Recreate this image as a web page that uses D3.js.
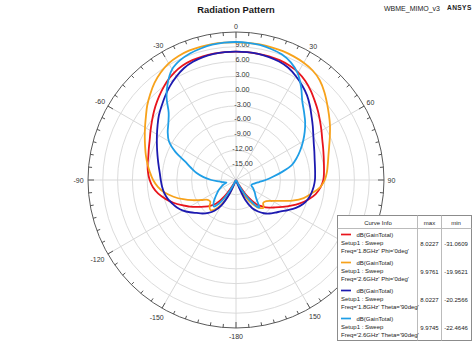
<!DOCTYPE html>
<html>
<head>
<meta charset="utf-8">
<script src="https://cdn.jsdelivr.net/npm/d3@7"></script>
<style>
  html, body { margin: 0; padding: 0; background: #fff; }
  svg { display: block; font-family: "Liberation Sans", Arial, sans-serif; }
</style>
</head>
<body>
<svg id="chart" width="474" height="346"></svg>
<script>
// Sample angles (deg, 0 = top, clockwise)
const ANGLES = [-180,-175,-170,-165,-160,-155,-150,-145,-140,-135,-130,-125,-120,-115,-110,-105,-100,-95,-90,-85,-80,-75,-70,-65,-60,-55,-50,-45,-40,-35,-30,-25,-20,-15,-10,-5,
  0,5,10,15,20,25,30,35,40,45,50,55,60,65,70,75,80,85,90,95,100,105,110,115,120,125,130,135,140,145,150,155,160,165,170,175];

// dB(GainTotal), 1.8 GHz, Phi = 0deg
const GAIN_18_PHI0 = [-31.06,-30,-28,-26,-24,-21,-17.5,-14.0,-11.8,-10.6,-9.6,-8.5,-7.2,-5.9,-4.5,-3.2,-2.0,-1.1,-0.5,-0.1,0.2,0.4,0.8,1.3,2.0,2.8,3.7,4.6,5.5,6.4,7.1,7.6,7.85,7.95,8.0,8.02,
  8.02,8.0,7.98,7.95,7.85,7.6,7.2,6.5,5.6,4.6,3.7,2.8,2.0,1.3,0.8,0.4,0.1,-0.1,-0.3,-0.8,-1.6,-2.8,-4.2,-5.7,-7.1,-8.3,-9.3,-10.4,-11.6,-13.8,-17.5,-21,-24,-26,-28,-30];

// dB(GainTotal), 2.6 GHz, Phi = 0deg
const GAIN_26_PHI0 = [-19.96,-19.9,-19.7,-19.3,-18.3,-15.0,-12.5,-10.8,-10.0,-10.4,-11.2,-11.0,-9.9,-8.3,-6.6,-4.9,-3.3,-2.1,-1.2,-0.5,0.2,0.9,1.6,2.4,3.3,4.3,5.5,6.6,7.7,8.6,9.3,9.7,9.9,9.95,9.976,9.95,
  9.9,9.9,9.9,9.85,9.8,9.65,9.45,9.1,8.4,7.3,6.1,5.0,4.0,3.0,2.1,1.4,0.9,0.5,0.0,-0.9,-2.4,-3.8,-5.8,-8.0,-9.5,-10.5,-10.8,-10.1,-10.6,-12.0,-13.8,-16.0,-18.5,-19.5,-19.8,-19.9];

// dB(GainTotal), 1.8 GHz, Theta = 90deg
const GAIN_18_THETA90 = [-20.27,-20.2,-20.0,-19.5,-18.5,-14.8,-12.0,-10.4,-9.3,-8.4,-7.6,-6.6,-5.6,-4.8,-4.2,-3.6,-3.2,-2.95,-2.75,-2.5,-2.1,-1.6,-1.0,-0.3,0.5,1.4,2.4,3.3,4.3,5.3,6.2,7.0,7.5,7.8,7.95,8.02,
  8.02,8.0,7.95,7.8,7.55,7.1,6.3,5.4,4.4,3.2,2.0,1.0,0.1,-0.6,-1.1,-1.5,-1.75,-1.9,-2.0,-2.2,-2.5,-2.9,-3.6,-4.6,-5.8,-6.9,-7.7,-8.4,-9.2,-10.2,-11.4,-13.6,-17.5,-19.5,-20.0,-20.2];

// dB(GainTotal), 2.6 GHz, Theta = 90deg
const GAIN_26_THETA90 = [-22.46,-22.3,-21.8,-21,-19.8,-18.5,-15.5,-12.5,-11.0,-11.6,-12.5,-13.3,-14.0,-14.7,-15.3,-16.0,-15.4,-14.6,-13.0,-11.4,-9.9,-8.6,-7.0,-4.4,-2.3,-1.1,-0.1,1.3,3.9,6.1,7.9,8.8,9.3,9.6,9.85,9.95,
  9.97,9.92,9.8,9.5,9.1,8.3,7.0,5.0,2.9,1.5,0.3,-1.0,-2.3,-3.6,-4.9,-6.3,-8.5,-10.5,-12.0,-13.3,-14.1,-14.6,-14.7,-14.2,-13.8,-13.3,-12.8,-11.9,-10.7,-12.8,-15.8,-18.6,-20,-21,-21.8,-22.3];

const SERIES = [GAIN_18_PHI0, GAIN_26_PHI0, GAIN_18_THETA90, GAIN_26_THETA90];
const SERIES_COLORS = ["#e8141c", "#f7a21b", "#1d1ab0", "#1f9ee6"];
const SERIES_NAMES = ["dB(GainTotal)", "dB(GainTotal)", "dB(GainTotal)", "dB(GainTotal)"];
const SETUP_NAMES = ["Setup1 : Sweep", "Setup1 : Sweep", "Setup1 : Sweep", "Setup1 : Sweep"];
const FREQ_NAMES = ["Freq='1.8GHz' Phi='0deg'", "Freq='2.6GHz' Phi='0deg'", "Freq='1.8GHz' Theta='90deg'", "Freq='2.6GHz' Theta='90deg'"];
const MAX_VALUES = ["8.0227", "9.9761", "8.0227", "9.9745"];
const MIN_VALUES = ["-31.0609", "-19.9621", "-20.2566", "-22.4646"];

const RING_TICKS = [-15, -12, -9, -6, -3, 0, 3, 6, 9];
const ANGLE_TICKS = [0, 30, 60, 90, 120, 150, 180, 210, 240, 270, 300, 330];
const ANGLE_LABELS = ["0", "30", "60", "90", "120", "150", "-180", "-150", "-120", "-90", "-60", "-30"];

const svg = d3.select("#chart");
const cx = 236, cy = 180, R = 148;
const rScale = d3.scaleLinear().domain([-18, 12]).range([0, R]).clamp(true);
const rad = d => d * Math.PI / 180;

// Legend table geometry (drawn last, on top of the plot)
const lx = 337.5, ly = 215.5, lw = 134, lh = 125, headH = 13, rowH = 28;

// Title and header text
svg.append("text").attr("x", 236).attr("y", 13).attr("text-anchor", "middle")
  .attr("font-size", 9.4).attr("font-weight", "bold").attr("fill", "#1a1a1a").text("Radiation Pattern");
svg.append("text").attr("x", 384).attr("y", 10.5).attr("font-size", 7).attr("fill", "#222").text("WBME_MIMO_v3");
svg.append("text").attr("x", 447).attr("y", 10).attr("font-size", 6.6).attr("font-weight", "bold")
  .attr("letter-spacing", 0.4).attr("fill", "#222").text("ANSYS");

const g = svg.append("g").attr("transform", `translate(${cx},${cy})`);

// Grid rings
g.selectAll("circle.ring").data(RING_TICKS).join("circle")
  .attr("r", d => rScale(d)).attr("fill", "none").attr("stroke", "#dcdcdc").attr("stroke-width", 1);

// Spokes every 30 deg
g.selectAll("line.spoke").data(ANGLE_TICKS).join("line")
  .attr("x1", 0).attr("y1", 0)
  .attr("x2", d => R * Math.sin(rad(d))).attr("y2", d => -R * Math.cos(rad(d)))
  .attr("stroke", "#d8d8d8").attr("stroke-width", 1);

// Outer circle and tick marks
g.append("circle").attr("r", R).attr("fill", "none").attr("stroke", "#5a5a5a").attr("stroke-width", 1);
const minorTicks = d3.range(0, 360, 5);
g.selectAll("line.tick").data(minorTicks).join("line")
  .attr("x1", d => R * Math.sin(rad(d))).attr("y1", d => -R * Math.cos(rad(d)))
  .attr("x2", d => (R - (d % 30 === 0 ? 6 : 3.5)) * Math.sin(rad(d)))
  .attr("y2", d => -(R - (d % 30 === 0 ? 6 : 3.5)) * Math.cos(rad(d)))
  .attr("stroke", "#555").attr("stroke-width", 1);

// Angle labels, pushed out by their width and height; any label under the legend table stays hidden
const labelR = (d, i) => {
  const s = Math.abs(Math.sin(rad(d))), c = Math.cos(rad(d));
  return 153.5 + 2 * (ANGLE_LABELS[i].length - 1) * s + (c < 0 ? 2.5 * -c : 0);
};
const angLabels = ANGLE_TICKS.map((d, i) => ({
  text: ANGLE_LABELS[i],
  x: labelR(d, i) * Math.sin(rad(d)),
  y: -labelR(d, i) * Math.cos(rad(d))
})).filter(p => !(cx + p.x > lx - 4 && cy + p.y > ly - 3));
g.selectAll("text.ang").data(angLabels).join("text")
  .attr("x", p => p.x).attr("y", p => p.y)
  .attr("text-anchor", "middle").attr("dominant-baseline", "central")
  .attr("font-size", 7).attr("fill", "#333").text(p => p.text);

// Radial labels along the 0-deg spoke
g.selectAll("text.rl").data(RING_TICKS).join("text")
  .attr("x", 6.5).attr("y", d => -rScale(d) + 0.5)
  .attr("text-anchor", "middle").attr("font-size", 7.2).attr("fill", "#333")
  .text(d => d.toFixed(2));

// Pattern curves
const line = d3.lineRadial()
  .angle(d => rad(d[0]))
  .radius(d => rScale(d[1]))
  .curve(d3.curveCatmullRomClosed.alpha(0.5));

SERIES.forEach((vals, i) => {
  const pts = ANGLES.map((a, k) => [a, vals[k]]);
  g.append("path").attr("d", line(pts)).attr("fill", "none")
    .attr("stroke", SERIES_COLORS[i]).attr("stroke-width", 1.8).attr("stroke-linejoin", "round");
});

// Legend table
const lg = svg.append("g");
lg.append("rect").attr("x", lx).attr("y", ly).attr("width", lw).attr("height", lh)
  .attr("fill", "#fff").attr("stroke", "#8c8c8c").attr("stroke-width", 1);
lg.append("line").attr("x1", lx).attr("x2", lx + lw).attr("y1", ly + headH).attr("y2", ly + headH).attr("stroke", "#bbb");
[417.5, 441.5].forEach(x => lg.append("line").attr("x1", x).attr("x2", x).attr("y1", ly).attr("y2", ly + lh).attr("stroke", "#bbb"));
const hdr = [["Curve Info", 378], ["max", 429.5], ["min", 456]];
hdr.forEach(([t, x]) => lg.append("text").attr("x", x).attr("y", ly + 9.5).attr("text-anchor", "middle")
  .attr("font-size", 6).attr("fill", "#222").text(t));

SERIES.forEach((vals, i) => {
  const y0 = ly + headH + i * rowH;
  lg.append("line").attr("x1", 341).attr("x2", 351).attr("y1", y0 + 6).attr("y2", y0 + 6)
    .attr("stroke", SERIES_COLORS[i]).attr("stroke-width", 1.7);
  lg.append("text").attr("x", 356.5).attr("y", y0 + 8).attr("font-size", 6).attr("fill", "#222").text(SERIES_NAMES[i]);
  lg.append("text").attr("x", 341).attr("y", y0 + 16.3).attr("font-size", 6).attr("fill", "#222").text(SETUP_NAMES[i]);
  lg.append("text").attr("x", 341).attr("y", y0 + 24.6).attr("font-size", 6).attr("fill", "#222").text(FREQ_NAMES[i]);
  lg.append("text").attr("x", 429.5).attr("y", y0 + 17).attr("text-anchor", "middle").attr("font-size", 6).attr("fill", "#222").text(MAX_VALUES[i]);
  lg.append("text").attr("x", 456).attr("y", y0 + 17).attr("text-anchor", "middle").attr("font-size", 6).attr("fill", "#222").text(MIN_VALUES[i]);
});
</script>
</body>
</html>
